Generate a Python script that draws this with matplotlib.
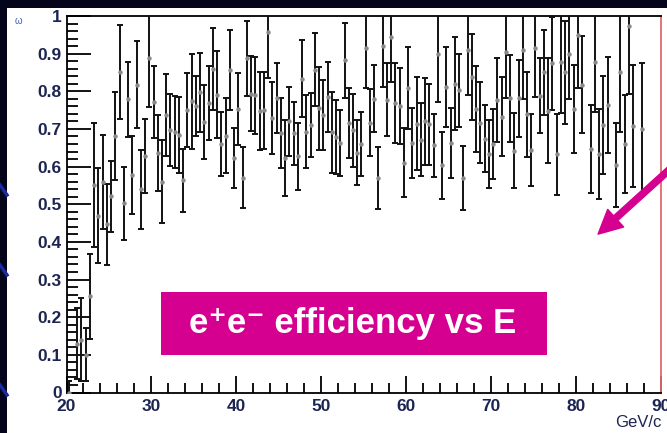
import numpy as np
import matplotlib
matplotlib.use('Agg')
import matplotlib.pyplot as plt
from matplotlib.patches import Rectangle, FancyArrowPatch
from matplotlib.lines import Line2D

plt.rcParams['font.family'] = ['Liberation Sans', 'DejaVu Sans']

# histogram binning: 140 bins of 0.5 GeV from 20 to 90
e_lo, e_hi, n_bins = 20.0, 90.0, 140

# efficiency per bin (nan = empty bin)
eff = [0.0, np.nan, 0.13, 0.14, 0.10, 0.255, 0.552, 0.47, 0.559, 0.447,
       0.521, 0.682, 0.851, 0.502, 0.779, 0.577, 0.818, 0.54, 0.629, 0.888,
       0.771, 0.636, 0.56, 0.737, 0.698, 0.692, 0.684, 0.564, 0.751, 0.773,
       0.76, 0.797, 0.718, 0.769, 0.859, 0.791, 0.661, 0.682, 0.857, 0.622,
       0.753, 0.571, 0.888, 0.794, 0.789, 0.748, 0.75, 0.957, 0.73, 0.781,
       0.688, 0.623, 0.72, 0.688, 0.628, 0.833, 0.693, 0.71, 0.857, 0.755,
       0.737, 0.785, 0.691, 0.679, 0.663, 0.882, 0.715, 0.696, 0.637, 0.66,
       0.916, 0.717, 0.78, 0.569, 0.919, 0.777, 0.945, 0.768, 0.761, 0.61,
       0.809, 0.662, 0.714, 0.671, 0.72, 0.712, 0.657, 0.898, 0.603, 0.811,
       0.662, 0.82, 0.803, 0.57, 0.91, 0.838, 0.753, 0.717, 0.674, 0.633,
       0.659, 0.777, 0.733, 0.905, 0.781, 0.642, 0.781, 0.91, 0.739, 0.645,
       0.915, 0.788, 0.85, 0.749, 0.874, 0.633, 0.877, 0.85, 0.90, 0.753,
       0.95, 0.818, np.nan, 0.647, 0.879, 0.633, 0.71, 0.764, np.nan, 0.604,
       0.852, 0.66, 0.973, 0.708, np.nan, 0.70, np.nan, np.nan, np.nan, np.nan]

err = [0.03, np.nan, 0.095, 0.11, 0.07, 0.113, 0.165, 0.126, 0.125, 0.108,
       0.094, 0.117, 0.125, 0.097, 0.10, 0.103, 0.116, 0.105, 0.098, 0.13,
       0.096, 0.101, 0.11, 0.108, 0.096, 0.096, 0.10, 0.084, 0.098, 0.127,
       0.08, 0.104, 0.098, 0.098, 0.108, 0.116, 0.085, 0.10, 0.106, 0.08,
       0.095, 0.082, 0.10, 0.10, 0.103, 0.104, 0.102, 0.123, 0.096, 0.093,
       0.093, 0.10, 0.091, 0.084, 0.089, 0.102, 0.097, 0.085, 0.097, 0.11,
       0.093, 0.093, 0.108, 0.098, 0.087, 0.10, 0.093, 0.098, 0.086, 0.085,
       0.108, 0.088, 0.089, 0.082, 0.108, 0.097, 0.12, 0.106, 0.10, 0.092,
       0.108, 0.093, 0.123, 0.097, 0.116, 0.108, 0.084, 0.126, 0.089, 0.106,
       0.093, 0.123, 0.097, 0.085, 0.12, 0.114, 0.113, 0.108, 0.089, 0.091,
       0.093, 0.111, 0.106, 0.124, 0.115, 0.10, 0.102, 0.13, 0.113, 0.096,
       0.13, 0.10, 0.113, 0.139, 0.124, 0.108, 0.135, 0.137, 0.12, 0.116,
       0.14, 0.129, np.nan, 0.116, 0.133, 0.12, 0.13, 0.128, np.nan, 0.111,
       0.16, 0.13, 0.18, 0.162, np.nan, 0.176, np.nan, np.nan, np.nan, np.nan]

x_ticks = [20, 30, 40, 50, 60, 70, 80, 90]
y_ticks = [0, 0.1, 0.2, 0.3, 0.4, 0.5, 0.6, 0.7, 0.8, 0.9, 1]
y_labels = ['0', '0.1', '0.2', '0.3', '0.4', '0.5', '0.6', '0.7', '0.8', '0.9', '1']

edges = np.linspace(e_lo, e_hi, n_bins + 1)
centers = 0.5 * (edges[:-1] + edges[1:])

W, H = 667, 433
fig = plt.figure(figsize=(W / 100, H / 100), dpi=100)
fig.patch.set_facecolor('#04041a')

# white slide panel
fig.add_artist(Rectangle((7 / W, 0), 1, (H - 8) / H, transform=fig.transFigure,
                         facecolor='white', edgecolor='none', zorder=0))
# bits of the blue slide decoration on the left strip
for y0 in [185, 265, 385]:
    fig.add_artist(Line2D([0, 7 / W], [1 - y0 / H, 1 - (y0 + 10) / H],
                          transform=fig.transFigure, color='#1a2aa0', lw=2.5))

ax = fig.add_axes([66.5 / W, (H - 392.5) / H, (660.7 - 66.5) / W, (392.5 - 16) / H])
ax.set_facecolor('white')

ax.errorbar(centers, eff, yerr=err, fmt='o', ms=2.2, mfc='#8a8a8a', mec='#8a8a8a',
            ecolor='#111111', elinewidth=1.4, capsize=2.2, capthick=1.4, zorder=3)

ax.set_xlim(e_lo, e_hi)
ax.set_ylim(0, 1)
ax.set_xticks(x_ticks)
ax.set_xticklabels([str(t) for t in x_ticks])
ax.set_yticks(y_ticks)
ax.set_yticklabels(y_labels)
ax.set_xticks(np.arange(20, 91, 2), minor=True)
ax.set_yticks(np.arange(0, 1.001, 0.02), minor=True)

lab_col = '#1c2452'
ax.tick_params(axis='both', which='both', direction='in', colors='black',
               labelcolor=lab_col, width=1.3)
ax.tick_params(axis='y', which='major', length=17, pad=3.5)
ax.tick_params(axis='y', which='minor', length=8)
ax.tick_params(axis='x', which='major', length=12, pad=5)
ax.tick_params(axis='x', which='minor', length=7)
for lab in ax.get_xticklabels() + ax.get_yticklabels():
    lab.set_fontsize(12.5)
    lab.set_fontweight('bold')

for s in ['left', 'top', 'bottom']:
    ax.spines[s].set_color('black')
    ax.spines[s].set_linewidth(1.3)
ax.spines['right'].set_color('#e06a6a')
ax.spines['right'].set_linewidth(1.3)

fig.text(18 / W, 1 - 21 / H, 'ω', fontsize=7, color='#4060b0', ha='center', va='center')
fig.text(662 / W, 1 - 427 / H, 'GeV/c', fontsize=12, color=lab_col, ha='right', va='baseline')

# magenta label box
magenta = '#d5008f'
fig.add_artist(Rectangle((161 / W, 1 - 355 / H), (547 - 161) / W, (355 - 292) / H,
                         transform=fig.transFigure, facecolor=magenta, edgecolor='none', zorder=5))
fig.text(353 / W, 1 - 324 / H, 'e⁺e⁻ efficiency vs E', fontsize=25,
         fontweight='bold', color='white', ha='center', va='center', zorder=6)

arrow = FancyArrowPatch((680 / W, 1 - 160 / H), (596 / W, 1 - 236 / H),
                        transform=fig.transFigure,
                        arrowstyle='simple,tail_width=0.25,head_width=0.95,head_length=0.95',
                        mutation_scale=18, color=magenta, zorder=6)
fig.add_artist(arrow)

fig.savefig('out.png', dpi=100, facecolor=fig.get_facecolor())
